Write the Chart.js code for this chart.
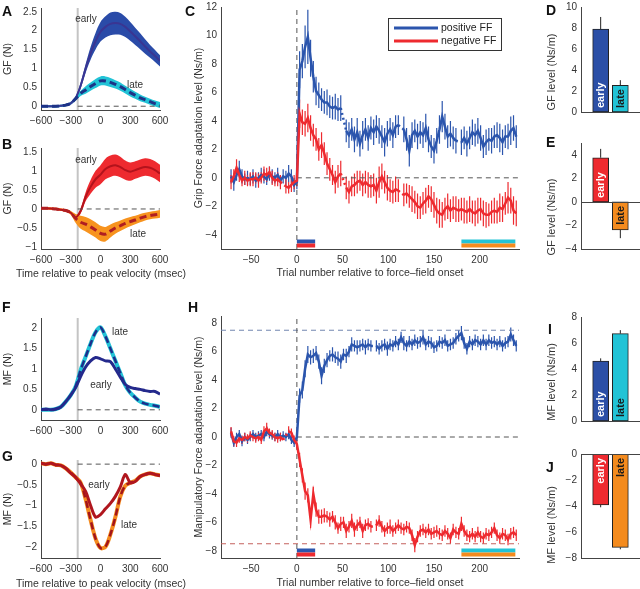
<!DOCTYPE html>
<html>
<head>
<meta charset="utf-8">
<script src="https://cdn.jsdelivr.net/npm/chart.js@4.4.0/dist/chart.umd.min.js"></script>
<style>
body{margin:0;background:#fff;}
#wrap{position:relative;width:640px;height:589px;overflow:hidden;font-family:"Liberation Sans",Arial,sans-serif;}
#wrap canvas{position:absolute;left:0;top:0;}
.lab{position:absolute;font-size:10px;color:#333;transform:translate(-50%,-50%);white-space:nowrap;}
.ttl{position:absolute;font-size:10.5px;color:#333;transform:translate(-50%,-50%);white-space:nowrap;}
.vttl{position:absolute;font-size:11px;color:#333;transform:translate(-50%,-50%) rotate(-90deg);white-space:nowrap;}
.let{position:absolute;font-size:14px;line-height:14px;font-weight:bold;color:#111;}
</style>
</head>
<body>
<div id="wrap"></div>
<script>
// ---- trial-by-trial data (C, H) ----
const trials = [-72,-69,-66,-63,-60,-57,-54,-51,-48,-45,-42,-39,-36,-33,-30,-27,-24,-21,-18,-15,-12,-9,-6,-3,0,
  3,6,9,12,15,18,21,24,27,30, 33,36,39,42,45,48,51,54,57,60, 63,66,69,72,75,78,81,84,87,90,
  93,96,99,102,105,108,111,114,117,120, 123,126,129,132,135,138,141,144,147,150,
  153,156,159,162,165,168,171,174,177,180, 183,186,189,192,195,198,201,204,207,210,
  213,216,219,222,225,228,231,234,237,240];

const cPos = [0.1,-0.3,0.2,0.6,0.1,-0.1,0.0,-0.1,0.1,-0.2, 0.0,0.2,0.1,-0.1,0.3,0.1,0.0,0.2,-0.2,0.1, 0.0,0.3,0.1,-0.5,-0.3,
  7.6,8.2,9.2,9.9,8.4,7.1,6.1,5.8,5.5,5.3,
  5.3,5.0,4.9,5.0,4.8,4.9,null,3.3,3.0,3.4,
  2.7,3.2,2.4,3.0,3.4,2.8,3.5,3.2,3.6,3.3,
  2.9,2.5,3.1,3.4,3.0,3.6,3.7,null,3.4,2.7,
  1.9,3.0,3.3,2.9,3.2,3.0,3.5,2.7,2.2,1.9,
  2.6,3.4,4.3,3.6,2.9,3.1,2.8,2.6,null,2.5,
  2.8,2.4,2.8,3.2,3.0,3.3,2.8,2.2,2.5,2.7,
  2.6,2.9,3.0,2.8,2.5,2.9,2.9,3.3,3.5,2.9];
const cPosErr = [0.5,0.6,0.4,0.6,0.5,0.4,0.5,0.4,0.5,0.5, 0.4,0.5,0.5,0.4,0.5,0.5,0.4,0.5,0.4,0.5, 0.5,0.6,0.5,0.5,0.5,
  1.3,1.2,1.5,1.9,1.3,1.1,1.0,0.9,0.8,0.8,
  0.9,0.8,0.8,0.9,0.8,0.9,0,0.8,0.9,0.8,
  0.9,1.0,0.9,1.0,0.8,0.9,0.8,0.9,0.8,0.9,
  0.8,1.0,0.9,0.8,0.9,0.8,0.7,0,0.9,0.8,
  1.1,0.9,0.8,0.9,0.8,0.9,1.0,0.9,0.8,0.9,
  0.9,1.0,1.1,0.9,0.8,0.9,0.8,0.9,0,0.9,
  0.8,0.9,0.8,0.9,0.8,0.9,0.9,0.8,0.9,0.8,
  0.9,0.8,0.9,1.0,0.9,0.8,0.9,1.0,0.9,0.8];

const cNeg = [-0.3,0.1,0.7,0.2,-0.2,0.0,-0.2,-0.1,-0.1,0.0, -0.2,0.0,0.3,0.2,0.4,0.0,-0.2,-0.1,-0.3,null, -0.6,-0.7,-0.5,-0.3,-0.2,
  4.5,3.9,3.8,4.2,3.5,3.0,2.7,2.0,2.3,1.7,
  1.0,0.6,0.2,-0.3,0.1,0.3,null,-0.7,-1.0,-0.6,
  -0.5,-0.3,-0.2,-0.5,-0.3,-0.5,-0.6,-0.5,-0.9,-0.3,
  0.1,-0.3,-0.7,-0.9,-1.0,-0.8,-0.9,null,-1.2,-1.1,
  -1.3,-1.5,-1.7,-2.0,-2.1,-1.8,-1.6,-1.3,-1.5,-1.9,
  -2.3,-2.5,-2.6,-2.2,-2.0,-2.3,-2.1,-2.2,-2.3,-2.2,
  -2.3,-2.4,-2.2,-2.4,-2.5,-2.3,-2.2,-2.5,-2.6,-2.6,
  -2.4,-2.3,-2.4,-2.1,-2.2,-1.8,-1.4,-1.6,-2.3,-2.5];
const cNegErr = [0.5,0.5,0.6,0.5,0.4,0.5,0.4,0.5,0.5,0.4, 0.5,0.4,0.5,0.5,0.4,0.5,0.4,0.5,0.5,0, 0.5,0.4,0.5,0.5,0.4,
  1.0,0.9,0.9,1.0,0.9,0.8,0.8,0.8,0.9,0.8,
  0.8,0.8,0.7,0.8,0.8,0.9,0,0.8,0.8,0.7,
  0.8,0.8,0.7,0.8,0.8,0.9,0.8,0.8,0.9,1.1,
  0.9,0.8,0.9,0.8,0.8,0.9,0.8,0,0.8,0.7,
  0.8,0.9,0.8,0.9,0.8,0.8,0.9,0.8,0.9,0.9,
  0.9,1.0,0.9,0.8,0.9,0.8,0.8,0.9,0.8,0.8,
  0.9,0.8,0.9,0.8,0.9,0.9,0.8,0.9,0.9,0.8,
  0.8,0.9,0.8,1.0,0.9,0.8,1.1,0.9,1.0,0.9];

const hPos = [0.3,-0.4,0.0,0.2,-0.3,0.0,-0.2,0.0,0.2,0.0, 0.1,0.2,0.0,0.4,0.2,0.1,0.0,0.2,0.0,0.1, 0.0,0.2,-0.2,-0.4,0.0,
  2.9,3.3,4.8,5.8,5.6,5.7,5.9,5.3,4.3,5.0,
  5.4,5.7,5.8,5.6,5.5,5.3,5.8,5.7,6.0,6.5,
  6.4,6.3,6.4,6.5,6.3,6.5,6.4,null,6.4,6.2,
  6.4,6.5,6.2,6.5,6.4,6.7,6.5,7.0,6.6,6.4,
  6.7,6.5,6.8,6.6,6.7,7.0,6.5,6.7,6.6,6.3,
  6.4,6.7,6.6,6.8,6.4,6.5,6.6,6.9,7.1,7.3,
  6.6,6.2,6.7,6.5,6.8,6.7,6.5,6.8,6.5,6.8,
  6.6,6.7,6.5,6.7,6.4,6.6,6.7,7.2,6.8,6.4];
const hPosErr = [0.35,0.3,0.3,0.3,0.35,0.3,0.3,0.3,0.3,0.3, 0.3,0.3,0.3,0.35,0.3,0.3,0.3,0.3,0.3,0.3, 0.3,0.35,0.3,0.3,0.3,
  0.5,0.6,0.6,0.6,0.5,0.5,0.5,0.5,0.6,0.5,
  0.5,0.4,0.5,0.4,0.5,0.5,0.4,0.5,0.4,0.5,
  0.4,0.5,0.4,0.4,0.5,0.4,0.4,0,0.4,0.4,
  0.4,0.4,0.5,0.4,0.4,0.4,0.4,0.4,0.5,0.4,
  0.4,0.4,0.4,0.4,0.4,0.5,0.4,0.4,0.4,0.4,
  0.4,0.4,0.4,0.4,0.4,0.4,0.4,0.4,0.4,0.5,
  0.4,0.4,0.4,0.4,0.4,0.4,0.4,0.4,0.4,0.4,
  0.4,0.4,0.4,0.4,0.4,0.4,0.4,0.5,0.4,0.4];

const hNeg = [0.4,-0.3,-0.4,-0.1,-0.2,0.0,-0.1,0.1,0.0,-0.1, 0.0,-0.2,0.4,0.6,0.3,0.2,0.0,-0.1,0.0,-0.2, null,0.4,0.3,-0.2,-0.5,
  -1.6,-2.7,-3.8,-4.1,-5.8,-4.0,-5.1,-5.6,-5.6,-5.5,
  -5.6,-5.8,-5.6,-6.0,-6.4,-6.1,-6.0,-6.6,-6.3,-5.9,
  -6.5,-6.2,-6.0,-6.6,-6.2,-6.1,-6.3,null,-6.2,-5.9,
  -6.3,-6.6,-6.4,-6.3,-6.6,-6.4,-6.2,-6.4,-6.5,-6.3,
  -6.4,-6.9,-7.6,-7.0,-6.6,-6.5,-6.7,-6.5,-6.8,-6.7,
  -6.6,-6.8,-6.9,-6.6,-6.8,-7.1,-6.5,-6.7,-6.8,-6.1,
  -6.6,-6.9,-7.0,-6.8,-7.0,-6.7,-7.0,-7.1,-6.8,-6.9,
  -6.7,-6.4,-6.9,-7.1,-6.8,-6.9,-7.2,-6.8,-6.7,-6.9];
const hNegErr = [0.3,0.35,0.3,0.3,0.3,0.3,0.3,0.3,0.3,0.3, 0.3,0.3,0.35,0.4,0.3,0.3,0.3,0.3,0.3,0, 0.3,0.35,0.3,0.3,0.3,
  0.5,0.5,0.6,0.5,0.6,0.5,0.5,0.5,0.5,0.5,
  0.4,0.5,0.4,0.5,0.4,0.5,0.4,0.5,0.4,0.5,
  0.5,0.4,0.4,0.5,0.4,0.4,0.4,0,0.4,0.4,
  0.4,0.4,0.4,0.5,0.4,0.4,0.4,0.4,0.4,0.4,
  0.4,0.4,0.5,0.4,0.4,0.4,0.4,0.4,0.4,0.4,
  0.4,0.4,0.4,0.4,0.4,0.4,0.4,0.4,0.4,0.5,
  0.4,0.4,0.4,0.4,0.4,0.4,0.4,0.4,0.4,0.4,
  0.4,0.4,0.4,0.4,0.4,0.4,0.4,0.4,0.4,0.4];

const earlyWin = [0, 20];
const lateWin = [180, 239];

// ---- within-movement time courses (A, B, F, G) ----
const times = [-600,-550,-500,-450,-400,-350,-300,-250,-200,-150,-100,-50,0,50,100,150,200,250,300,350,400,450,500,550,600];
const onsetTime = -230;

const aEarly     = [0.0,0.0,0.0,0.0,0.01,0.03,0.08,0.22,0.55,1.0,1.4,1.72,1.97,2.1,2.18,2.2,2.18,2.1,1.98,1.85,1.72,1.58,1.45,1.33,1.2];
const aEarlyBand = [0.03,0.03,0.03,0.03,0.03,0.03,0.04,0.05,0.08,0.12,0.17,0.22,0.26,0.28,0.3,0.3,0.29,0.27,0.25,0.23,0.21,0.19,0.17,0.16,0.15];
const aLate      = [0.0,0.0,0.0,0.0,0.01,0.03,0.08,0.2,0.34,0.43,0.52,0.6,0.67,0.67,0.63,0.58,0.52,0.44,0.36,0.29,0.22,0.17,0.12,0.07,0.03];
const aLateBand  = [0.03,0.03,0.03,0.03,0.03,0.03,0.03,0.05,0.07,0.1,0.11,0.12,0.12,0.12,0.12,0.11,0.11,0.1,0.1,0.09,0.09,0.08,0.08,0.08,0.08];

const bEarly     = [0.02,0.02,0.01,0.0,-0.02,-0.04,-0.1,-0.22,-0.05,0.32,0.58,0.78,0.9,1.05,1.12,1.15,1.1,1.02,0.98,1.02,1.07,1.1,1.08,1.02,0.93];
const bEarlyBand = [0.03,0.03,0.03,0.03,0.03,0.03,0.04,0.05,0.07,0.12,0.18,0.22,0.25,0.27,0.28,0.28,0.27,0.25,0.24,0.23,0.23,0.23,0.23,0.23,0.23];
const bLate      = [0.02,0.02,0.01,0.0,-0.02,-0.04,-0.1,-0.25,-0.35,-0.4,-0.47,-0.55,-0.64,-0.66,-0.58,-0.5,-0.44,-0.38,-0.33,-0.29,-0.24,-0.2,-0.17,-0.15,-0.13];
const bLateBand  = [0.03,0.03,0.03,0.03,0.03,0.03,0.05,0.12,0.17,0.19,0.2,0.2,0.2,0.19,0.17,0.15,0.14,0.13,0.12,0.11,0.11,0.1,0.1,0.1,0.1];

const fEarly = [0.0,0.02,0.0,0.02,0.07,0.2,0.36,0.55,0.82,1.05,1.2,1.28,1.25,1.2,1.18,1.0,0.8,0.62,0.55,0.52,0.5,0.47,0.45,0.45,0.38];
const fLate  = [0.0,0.0,0.0,0.02,0.07,0.2,0.36,0.58,0.98,1.3,1.62,1.9,2.02,1.8,1.5,1.2,0.9,0.6,0.42,0.3,0.2,0.15,0.12,0.1,0.07];
const gEarly = [0.02,0.0,0.02,-0.02,-0.03,-0.1,-0.22,-0.32,-0.48,-0.66,-1.0,-1.28,-1.22,-1.08,-0.95,-0.78,-0.55,-0.25,-0.45,-0.42,-0.3,-0.25,-0.22,-0.25,-0.28];
const gLate  = [0.02,0.0,0.02,-0.02,-0.03,-0.1,-0.2,-0.32,-0.45,-0.85,-1.35,-1.8,-2.03,-2.0,-1.7,-1.28,-0.78,-0.52,-0.45,-0.4,-0.3,-0.25,-0.22,-0.25,-0.27];

// ---- bar summaries (D, E, I, J) ----
const barNames = ['early', 'late'];
const dVals = [7.9, 2.55],  dErr = [1.15, 0.48];
const eVals = [3.75, -2.38], eErr = [0.75, 0.7];
const iVals = [4.6, 6.72],  iErr = [0.22, 0.27];
const jVals = [-3.92, -7.18], jErr = [0.18, 0.15];

// ---- tick labels ----
const timeTicks = [-600, -300, 0, 300, 600];
const trialTicks = [-50, 0, 50, 100, 150, 200];
const aTicks = [0, 0.5, 1, 1.5, 2, 2.5];
const bTicks = [-1, -0.5, 0, 0.5, 1, 1.5];
const fTicks = [0, 0.5, 1, 1.5, 2];
const gTicks = [-2, -1.5, -1, -0.5, 0];
const cTicks = [-4, -2, 0, 2, 4, 6, 8, 10, 12];
const hTicks = [-8, -6, -4, -2, 0, 2, 4, 6, 8];
const dTicks = [0, 2, 4, 6, 8, 10];
const eTicks = [-4, -2, 0, 2, 4];
const iTicks = [0, 2, 4, 6, 8];
const jTicks = [-8, -6, -4, -2, 0];

const BLUE = '#2b55ad', RED = '#ee2a2f', CYAN = '#22c3d6', ORANGE = '#f48b1e';
const FONT = {family: '"Liberation Sans", Arial, sans-serif', size: 10};
const TFONT = {family: '"Liberation Sans", Arial, sans-serif', size: 10.5};
Chart.defaults.font.family = FONT.family;
Chart.defaults.font.size = 10;
Chart.defaults.color = '#333';

const wrap = document.getElementById('wrap');

function fmt(v) { return String(v).replace('-', '\u2212'); }

function yAxis(min, max, ticks, title, width) {
  return {
    type: 'linear', position: 'left', min: min, max: max,
    grid: {display: false, drawTicks: false},
    border: {display: true, color: '#444'},
    ticks: {font: FONT, color: '#333', padding: 4, autoSkip: false, callback: v => fmt(v)},
    afterBuildTicks: s => { s.ticks = ticks.map(v => ({value: v})); },
    afterFit: s => { s.width = width; s.paddingTop = 0; s.paddingBottom = 0; },
    title: {display: !!title, text: title, font: TFONT, color: '#333', padding: 0}
  };
}

function xAxis(min, max, ticks, title, height) {
  return {
    type: 'linear', position: 'bottom', min: min, max: max, offset: false,
    grid: {display: false, drawTicks: false},
    border: {display: true, color: '#444'},
    ticks: {display: !!ticks, font: FONT, color: '#333', padding: 5, autoSkip: false, maxRotation: 0, callback: v => fmt(v)},
    afterBuildTicks: s => { if (ticks) s.ticks = ticks.map(v => ({value: v})); },
    afterFit: s => { s.height = height; s.paddingLeft = 0; s.paddingRight = 0; },
    title: {display: !!title, text: title, font: TFONT, color: '#333', padding: 0}
  };
}

function makeChart(area, yW, xH, type, datasets, scales, plugins) {
  const cv = document.createElement('canvas');
  cv.width = 640; cv.height = 589;
  wrap.appendChild(cv);
  return new Chart(cv, {
    type: type,
    data: {datasets: datasets},
    options: {
      responsive: false, animation: false, events: [],
      layout: {autoPadding: false, padding: {left: area.l - yW, top: area.t, right: 640 - area.r, bottom: 589 - area.b - xH}},
      plugins: {legend: {display: false}, tooltip: {enabled: false}},
      scales: scales
    },
    plugins: plugins || []
  });
}

function line(xs, ys, color, width, dash, order, tension) {
  return {data: xs.map((x, i) => ({x: x, y: ys[i]})), borderColor: color, borderWidth: width,
    borderDash: dash || [], pointRadius: 0, fill: false, tension: tension || 0, order: order || 0};
}
function band(xs, m, b, color, order) {
  return [
    {data: xs.map((x, i) => ({x: x, y: m[i] + b[i]})), borderWidth: 0, borderColor: color, backgroundColor: color,
      pointRadius: 0, fill: '+1', tension: 0.35, order: order},
    {data: xs.map((x, i) => ({x: x, y: m[i] - b[i]})), borderWidth: 0, borderColor: color,
      pointRadius: 0, fill: false, tension: 0.35, order: order}
  ];
}
function refLines(yMin, yMax) {
  return [
    line([onsetTime, onsetTime], [yMin, yMax], '#c4c4c4', 2, [], 20),
    line([onsetTime, 600], [0, 0], '#555', 1, [5, 4], -5)
  ];
}

// ---- A ----
makeChart({l: 41, r: 160, t: 8, b: 110}, 39.5, 20, 'line', [
  ...refLines(-0.1, 2.6),
  ...band(times, aEarly, aEarlyBand, '#2a4ba8', 10),
  line(times, aEarly, '#3a3592', 2, [], 1, 0.35),
  ...band(times, aLate, aLateBand, CYAN, 8),
  line(times, aLate, '#1d3387', 3, [7, 4], 0, 0.35)
], {x: xAxis(-600, 600, timeTicks, '', 20), y: yAxis(-0.1, 2.6, aTicks, 'GF (N)', 39.5)});

// ---- B ----
makeChart({l: 41, r: 160, t: 148, b: 249}, 39.5, 30, 'line', [
  ...refLines(-1.05, 1.6),
  ...band(times, bEarly, bEarlyBand, RED, 10),
  line(times, bEarly, '#b3131c', 2, [], 1, 0.35),
  ...band(times, bLate, bLateBand, '#f7931e', 8),
  line(times, bLate, '#b01e22', 3, [7, 4], 0, 0.35)
], {x: xAxis(-600, 600, timeTicks, '', 30), y: yAxis(-1.05, 1.6, bTicks, 'GF (N)', 39.5)});

// ---- F ----
makeChart({l: 41, r: 160, t: 318, b: 420}, 39.5, 20, 'line', [
  ...refLines(-0.25, 2.25),
  line(times, fLate, CYAN, 4, [], 3, 0.3),
  line(times, fLate, '#1c2f8c', 2.5, [7, 4], 2, 0.3),
  line(times, fEarly, '#24298c', 3, [], 1, 0.3)
], {x: xAxis(-600, 600, timeTicks, '', 20), y: yAxis(-0.25, 2.25, fTicks, 'MF (N)', 39.5)});

// ---- G ----
makeChart({l: 41, r: 160, t: 460, b: 558}, 39.5, 31, 'line', [
  ...refLines(-2.27, 0.1),
  line(times, gLate, ORANGE, 4, [], 3, 0.3),
  line(times, gLate, '#a3141b', 2.5, [7, 4], 2, 0.3),
  line(times, gEarly, '#b0161e', 3, [], 1, 0.3)
], {x: xAxis(-600, 600, timeTicks, '', 31), y: yAxis(-2.27, 0.1, gTicks, 'MF (N)', 39.5)});

// ---- trial panels ----
function errPlugin(list) {
  return {id: 'errbars', beforeDatasetsDraw(chart) {
    const ctx = chart.ctx, x = chart.scales.x, y = chart.scales.y;
    ctx.save(); ctx.lineWidth = 1.2;
    list.forEach(s => {
      ctx.strokeStyle = s.color;
      ctx.beginPath();
      s.ys.forEach((v, i) => {
        if (v === null || !s.es[i]) return;
        const px = x.getPixelForValue(trials[i]);
        ctx.moveTo(px, y.getPixelForValue(v - s.es[i]));
        ctx.lineTo(px, y.getPixelForValue(v + s.es[i]));
      });
      ctx.stroke();
    });
    ctx.restore();
  }};
}
function winPlugin() {
  return {id: 'windows', afterDatasetsDraw(chart) {
    const ctx = chart.ctx, x = chart.scales.x, b = chart.chartArea.bottom;
    [[earlyWin, BLUE, RED], [lateWin, CYAN, ORANGE]].forEach(w => {
      const x0 = x.getPixelForValue(w[0][0]), x1 = x.getPixelForValue(w[0][1]);
      ctx.fillStyle = w[1]; ctx.fillRect(x0, b - 9.5, x1 - x0, 4);
      ctx.fillStyle = w[2]; ctx.fillRect(x0, b - 5.5, x1 - x0, 4);
    });
  }};
}
function trialLine(ys, color) {
  return {data: trials.map((t, i) => ({x: t, y: ys[i]})), borderColor: color, borderWidth: 2.5, pointRadius: 0,
    fill: false, tension: 0, spanGaps: true, order: 1,
    segment: {borderDash: ctx => (ctx.p0.skip || ctx.p1.skip) ? [2, 3] : undefined}};
}

const legendPlugin = {id: 'legendBox', afterDatasetsDraw(chart) {
  const ctx = chart.ctx;
  ctx.save();
  ctx.fillStyle = '#fff'; ctx.fillRect(388.5, 18.5, 113, 32);
  ctx.strokeStyle = '#333'; ctx.lineWidth = 1; ctx.strokeRect(388.5, 18.5, 113, 32);
  [['positive FF', BLUE, 28], ['negative FF', RED, 41]].forEach(e => {
    ctx.strokeStyle = e[1]; ctx.lineWidth = 3;
    ctx.beginPath(); ctx.moveTo(394, e[2]); ctx.lineTo(438, e[2]); ctx.stroke();
    ctx.fillStyle = '#222'; ctx.font = '10.5px "Liberation Sans", Arial, sans-serif';
    ctx.textBaseline = 'middle'; ctx.fillText(e[0], 441, e[2]);
  });
  ctx.restore();
}};

// ---- C ----
makeChart({l: 221, r: 519, t: 7, b: 249}, 28, 30, 'line', [
  line([0, 0], [-5, 12], '#555', 1, [5, 4], 5),
  line([0, 243], [0, 0], '#555', 1, [5, 4], 5),
  trialLine(cNeg, RED),
  trialLine(cPos, BLUE)
], {x: xAxis(-83, 243, trialTicks, 'Trial number relative to force\u2013field onset', 30),
    y: yAxis(-5, 12, cTicks, 'Grip Force adaptation level (Ns/m)', 28)},
  [errPlugin([{ys: cPos, es: cPosErr, color: BLUE}, {ys: cNeg, es: cNegErr, color: RED}]), winPlugin(), legendPlugin]);

// ---- H ----
makeChart({l: 221, r: 519, t: 316, b: 558}, 28, 31, 'line', [
  line([0, 0], [-8.5, 8.5], '#555', 1, [5, 4], 5),
  line([0, 243], [0, 0], '#555', 1, [5, 4], 5),
  line([-83, 243], [7.5, 7.5], '#7186b0', 1, [5, 4], 5),
  line([-83, 243], [-7.5, -7.5], '#c4605c', 1, [5, 4], 5),
  trialLine(hNeg, RED),
  trialLine(hPos, BLUE)
], {x: xAxis(-83, 243, trialTicks, 'Trial number relative to force\u2013field onset', 31),
    y: yAxis(-8.5, 8.5, hTicks, 'Manipulatory Force adaptation level (Ns/m)', 28)},
  [errPlugin([{ys: hPos, es: hPosErr, color: BLUE}, {ys: hNeg, es: hNegErr, color: RED}]), winPlugin()]);

// ---- bar panels ----
function barPlugin(vals, errs, zeroLine) {
  return {id: 'barDeco', afterDatasetsDraw(chart) {
    const ctx = chart.ctx, y = chart.scales.y, area = chart.chartArea;
    ctx.save();
    if (zeroLine) {
      ctx.strokeStyle = '#444'; ctx.lineWidth = 1;
      const z = Math.round(y.getPixelForValue(0)) + 0.5;
      ctx.beginPath(); ctx.moveTo(area.left, z); ctx.lineTo(area.right, z); ctx.stroke();
    }
    chart.getDatasetMeta(0).data.forEach((bar, i) => {
      const p = bar.getProps(['x', 'y', 'base'], true);
      const v = vals[i];
      const tip = y.getPixelForValue(v + (v > 0 ? errs[i] : -errs[i]));
      ctx.strokeStyle = '#222'; ctx.lineWidth = 1;
      ctx.beginPath(); ctx.moveTo(p.x, p.y); ctx.lineTo(p.x, tip); ctx.stroke();
      ctx.save();
      ctx.translate(p.x, p.base + (v > 0 ? -4 : 4));
      ctx.rotate(-Math.PI / 2);
      ctx.font = 'bold 11px "Liberation Sans", Arial, sans-serif';
      ctx.fillStyle = i === 0 ? '#fff' : '#1a1a1a';
      ctx.textAlign = v > 0 ? 'left' : 'right';
      ctx.textBaseline = 'middle';
      ctx.fillText(barNames[i], 0, 0.5);
      ctx.restore();
    });
    ctx.restore();
  }};
}
function barPanel(area, min, max, ticks, vals, errs, colors, zeroLine) {
  makeChart(area, 30, 0, 'bar', [{
    data: vals.map((v, i) => ({x: i + 1, y: v})),
    backgroundColor: colors, borderColor: '#222', borderWidth: 1, barThickness: 16, borderSkipped: false
  }], {x: xAxis(0, 3, null, '', 0), y: yAxis(min, max, ticks, '', 30)}, [barPlugin(vals, errs, zeroLine)]);
}
barPanel({l: 581, r: 640, t: 7, b: 112}, 0, 10, dTicks, dVals, dErr, ['#2b4fa6', CYAN], false);
barPanel({l: 581, r: 640, t: 143, b: 249}, -4, 5, eTicks, eVals, eErr, [RED, ORANGE], true);
barPanel({l: 581, r: 640, t: 317, b: 421}, 0, 8, iTicks, iVals, iErr, ['#2b4fa6', CYAN], false);
barPanel({l: 581, r: 640, t: 454, b: 558}, -8, 0, jTicks, jVals, jErr, [RED, ORANGE], true);

// ---- text placed over the plots ----
function addText(cls, text, x, y) {
  const d = document.createElement('div'); d.className = cls; d.textContent = text;
  d.style.left = x + 'px'; d.style.top = y + 'px'; wrap.appendChild(d);
}
[['early', 86, 18], ['late', 135, 84], ['early', 86, 159], ['late', 138, 233],
 ['late', 120, 331], ['early', 101, 384], ['early', 99, 484], ['late', 129, 524]].forEach(l => addText('lab', l[0], l[1], l[2]));
addText('ttl', 'Time relative to peak velocity (msec)', 101, 273);
addText('ttl', 'Time relative to peak velocity (msec)', 101, 583);
addText('vttl', 'GF level (Ns/m)', 551, 72);
addText('vttl', 'GF level (Ns/m)', 551, 217);
addText('vttl', 'MF level (Ns/m)', 551, 382);
addText('vttl', 'MF level (Ns/m)', 551, 525);
[['A', 2, 4], ['B', 2, 137], ['C', 185, 4], ['D', 546, 3], ['E', 546, 135],
 ['F', 2, 300], ['G', 2, 449], ['H', 188, 300], ['I', 548, 322], ['J', 546, 460]].forEach(l => {
  const d = document.createElement('div'); d.className = 'let'; d.textContent = l[0];
  d.style.left = l[1] + 'px'; d.style.top = l[2] + 'px'; wrap.appendChild(d);
});
</script>
</body>
</html>
